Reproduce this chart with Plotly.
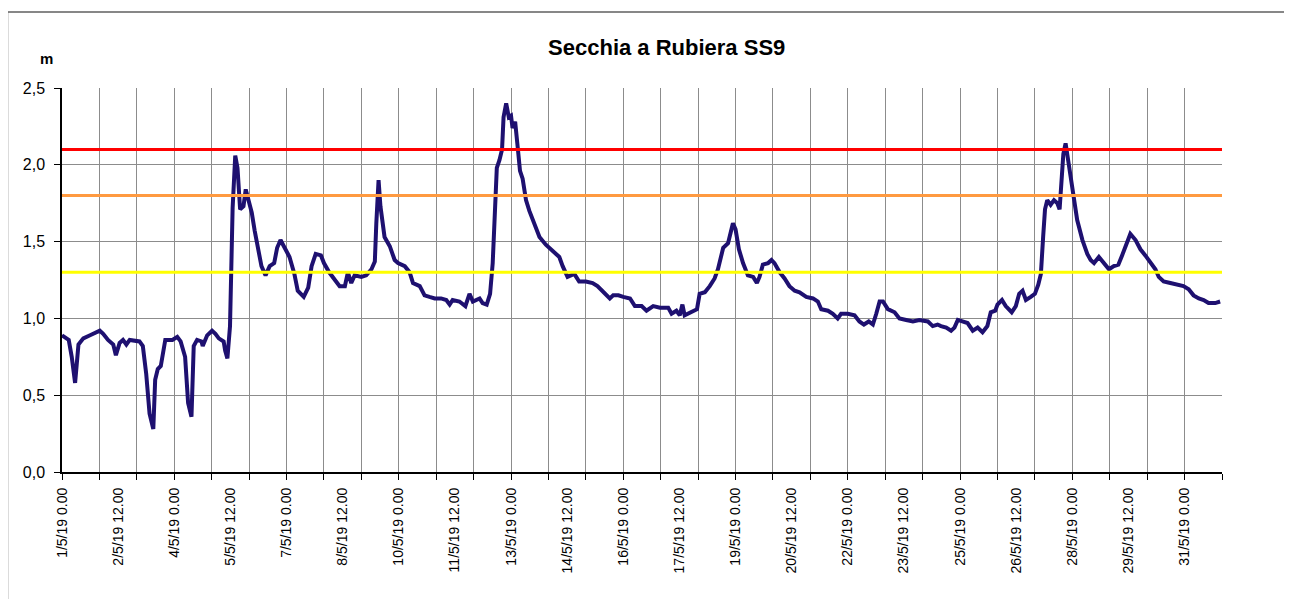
import pandas as pd
import plotly.graph_objects as go

# Livello idrometrico Secchia a Rubiera SS9 - maggio 2019
start_date = "2019-05-01"
end_date = "2019-06-01"

# giorni trascorsi dal 1/5/19 0.00
day_offset = [
    0.00, 0.18, 0.26, 0.35, 0.44, 0.57, 0.75, 0.93, 1.01, 1.10, 1.23, 1.37, 1.44, 1.54, 1.63, 1.72, 1.81,
    2.07, 2.16, 2.25, 2.34, 2.44, 2.49, 2.56, 2.64, 2.76, 2.95, 3.08, 3.17, 3.29, 3.37, 3.46, 3.52, 3.61,
    3.73, 3.76, 3.88, 4.01, 4.10, 4.19, 4.32, 4.36, 4.42, 4.49, 4.52, 4.56, 4.63, 4.69, 4.76, 4.85, 4.91,
    4.98, 5.07, 5.15, 5.24, 5.33, 5.44, 5.55, 5.67, 5.75, 5.84, 5.95, 6.08, 6.21, 6.30, 6.46, 6.58, 6.67,
    6.78, 6.92, 7.00, 7.14, 7.29, 7.42, 7.56, 7.64, 7.73, 7.82, 8.00, 8.13, 8.27, 8.36, 8.40, 8.46, 8.51,
    8.62, 8.76, 8.89, 8.98, 9.16, 9.29, 9.38, 9.56, 9.69, 9.82, 9.96, 10.13, 10.27, 10.36, 10.44, 10.62,
    10.78, 10.89, 10.98, 11.16, 11.24, 11.35, 11.44, 11.51, 11.56, 11.62, 11.69, 11.76, 11.80, 11.87,
    11.94, 12.00, 12.04, 12.11, 12.18, 12.24, 12.31, 12.40, 12.49, 12.62, 12.76, 12.93, 13.11, 13.29,
    13.38, 13.51, 13.69, 13.82, 14.00, 14.18, 14.31, 14.44, 14.58, 14.64, 14.73, 14.87, 15.00, 15.18,
    15.31, 15.49, 15.62, 15.80, 15.98, 16.20, 16.29, 16.42, 16.51, 16.58, 16.64, 16.78, 16.97, 17.04,
    17.18, 17.31, 17.44, 17.53, 17.67, 17.80, 17.86, 17.93, 18.00, 18.09, 18.20, 18.33, 18.47, 18.57,
    18.64, 18.73, 18.87, 18.96, 19.04, 19.18, 19.31, 19.44, 19.58, 19.71, 19.89, 20.07, 20.20, 20.29,
    20.47, 20.60, 20.73, 20.82, 21.00, 21.18, 21.31, 21.43, 21.56, 21.67, 21.76, 21.85, 21.94, 22.07,
    22.25, 22.38, 22.56, 22.74, 22.91, 23.14, 23.27, 23.40, 23.49, 23.63, 23.76, 23.85, 23.94, 24.07,
    24.20, 24.34, 24.47, 24.60, 24.73, 24.82, 24.94, 25.00, 25.12, 25.22, 25.38, 25.49, 25.58, 25.67,
    25.76, 25.89, 26.00, 26.09, 26.16, 26.22, 26.27, 26.33, 26.42, 26.51, 26.60, 26.66, 26.72, 26.76,
    26.82, 26.89, 26.96, 27.04, 27.13, 27.27, 27.40, 27.49, 27.58, 27.71, 27.84, 27.98, 28.11, 28.23,
    28.33, 28.44, 28.55, 28.69, 28.82, 28.95, 29.09, 29.22, 29.31, 29.44, 29.62, 29.80, 29.97, 30.11,
    30.24, 30.38, 30.51, 30.64, 30.82, 30.95,
]

# livello in metri
level_m = [
    0.89, 0.86, 0.75, 0.58, 0.83, 0.87, 0.89, 0.91, 0.92, 0.90, 0.86, 0.83, 0.76, 0.84, 0.86, 0.83, 0.86,
    0.85, 0.82, 0.64, 0.38, 0.28, 0.60, 0.67, 0.69, 0.86, 0.86, 0.88, 0.85, 0.75, 0.45, 0.36, 0.82, 0.86,
    0.85, 0.82, 0.89, 0.92, 0.90, 0.87, 0.85, 0.79, 0.74, 0.95, 1.29, 1.72, 2.06, 1.98, 1.71, 1.73, 1.84,
    1.77, 1.69, 1.57, 1.44, 1.34, 1.28, 1.34, 1.36, 1.46, 1.51, 1.46, 1.40, 1.29, 1.18, 1.14, 1.20, 1.34,
    1.42, 1.41, 1.36, 1.30, 1.25, 1.21, 1.21, 1.30, 1.23, 1.28, 1.27, 1.28, 1.32, 1.37, 1.62, 1.90, 1.73,
    1.53, 1.47, 1.38, 1.36, 1.34, 1.30, 1.23, 1.21, 1.15, 1.14, 1.13, 1.13, 1.12, 1.09, 1.12, 1.11,
    1.08, 1.16, 1.11, 1.13, 1.10, 1.09, 1.16, 1.36, 1.66, 1.98, 2.03, 2.10, 2.31, 2.40,
    2.31, 2.32, 2.24, 2.28, 2.11, 1.96, 1.91, 1.77, 1.70, 1.61, 1.53, 1.48, 1.44, 1.40,
    1.34, 1.27, 1.29, 1.24, 1.24, 1.23, 1.21, 1.18, 1.15, 1.13, 1.15, 1.15, 1.14, 1.13,
    1.08, 1.08, 1.05, 1.08, 1.07, 1.07, 1.03, 1.05, 1.02, 1.09, 1.02, 1.04, 1.06, 1.16,
    1.17, 1.21, 1.26, 1.32, 1.46, 1.49, 1.55, 1.62, 1.58, 1.45, 1.36, 1.28, 1.27, 1.23,
    1.27, 1.35, 1.36, 1.38, 1.36, 1.30, 1.26, 1.21, 1.18, 1.17, 1.14, 1.13, 1.11, 1.06,
    1.05, 1.03, 1.00, 1.03, 1.03, 1.02, 0.98, 0.96, 0.98, 0.96, 1.03, 1.11, 1.11, 1.06,
    1.04, 1.00, 0.99, 0.98, 0.99, 0.98, 0.95, 0.96, 0.95, 0.94, 0.92, 0.94, 0.99, 0.98,
    0.97, 0.92, 0.94, 0.91, 0.95, 1.04, 1.05, 1.09, 1.12, 1.08, 1.04, 1.08, 1.16, 1.18,
    1.12, 1.14, 1.16, 1.22, 1.29, 1.53, 1.71, 1.77, 1.74, 1.77, 1.75, 1.71, 1.90, 2.07,
    2.14, 2.02, 1.90, 1.77, 1.64, 1.51, 1.42, 1.38, 1.36, 1.40, 1.36, 1.32, 1.34, 1.35,
    1.41, 1.48, 1.55, 1.51, 1.45, 1.41, 1.36, 1.32, 1.27, 1.24, 1.23, 1.22, 1.21, 1.19,
    1.15, 1.13, 1.12, 1.10, 1.10, 1.11,
]

# soglie di allerta (m)
threshold_levels = [2.1, 1.8, 1.3]
threshold_colors = ["#ff0000", "#ff9a40", "#ffff00"]

times = pd.Timestamp(start_date) + pd.to_timedelta(day_offset, unit="D")
label_ticks = pd.date_range(start_date, "2019-05-31", freq="36h")

fig = go.Figure()

# soglie come linee orizzontali sull'asse x2 (quello con le etichette)
for level, color in zip(threshold_levels, threshold_colors):
    fig.add_trace(
        go.Scatter(
            x=[start_date, end_date],
            y=[level, level],
            mode="lines",
            line=dict(color=color, width=3),
            xaxis="x2",
            showlegend=False,
            hoverinfo="skip",
        )
    )

fig.add_trace(
    go.Scatter(
        x=times,
        y=level_m,
        mode="lines",
        line=dict(color="#1e1070", width=4),
        name="Secchia a Rubiera SS9",
        showlegend=False,
    )
)

grid_color = "#8c8c8c"

# la pagina ha 8 px di margine: figura ridotta di conseguenza
fig.update_layout(
    width=1284,
    height=591,
    margin=dict(l=54, r=70, t=80, b=127),
    paper_bgcolor="white",
    plot_bgcolor="white",
    separators=",.",
    font=dict(family="Liberation Sans, Arial, sans-serif", color="black"),
    title=dict(
        text="<b>Secchia a Rubiera SS9</b>",
        x=0.513,
        xanchor="center",
        y=0.934,
        yanchor="middle",
        font=dict(size=22, color="black"),
    ),
    # griglia giornaliera con tacche, senza etichette
    xaxis=dict(
        range=[start_date, end_date],
        type="date",
        tick0=start_date,
        dtick=86400000,
        showticklabels=False,
        ticks="outside",
        ticklen=6,
        tickcolor="black",
        showgrid=True,
        gridcolor=grid_color,
        gridwidth=1,
        showline=True,
        linecolor="black",
        linewidth=1.5,
        zeroline=False,
    ),
    # etichette ogni 36 ore
    xaxis2=dict(
        overlaying="x",
        side="bottom",
        anchor="y",
        matches="x",
        type="date",
        tickmode="array",
        tickvals=label_ticks,
        tickformat="%-d/%-m/%y %-H.%M",
        tickangle=-90,
        ticks="",
        ticklabelstandoff=12,
        tickfont=dict(size=14),
        showgrid=False,
        showline=False,
        zeroline=False,
    ),
    yaxis=dict(
        range=[0, 2.5],
        dtick=0.5,
        tickformat=".1f",
        ticks="outside",
        ticklen=6,
        tickcolor="black",
        tickfont=dict(size=16),
        ticklabelstandoff=6,
        showgrid=True,
        gridcolor=grid_color,
        gridwidth=1,
        showline=True,
        linecolor="black",
        linewidth=1.5,
        zeroline=False,
    ),
)

# unità di misura sopra l'asse y
fig.add_annotation(
    text="<b>m</b>",
    xref="paper",
    yref="paper",
    x=-0.013,
    y=1.078,
    xanchor="center",
    yanchor="middle",
    showarrow=False,
    font=dict(size=15, color="black"),
)

# cornice esterna dell'area grafico
fig.add_shape(
    type="rect",
    xref="paper",
    yref="paper",
    x0=-0.047,
    x1=1.057,
    y0=-0.36,
    y1=1.198,
    line=dict(color="#606060", width=1.5),
    layer="below",
)

fig.write_html("out.html")
